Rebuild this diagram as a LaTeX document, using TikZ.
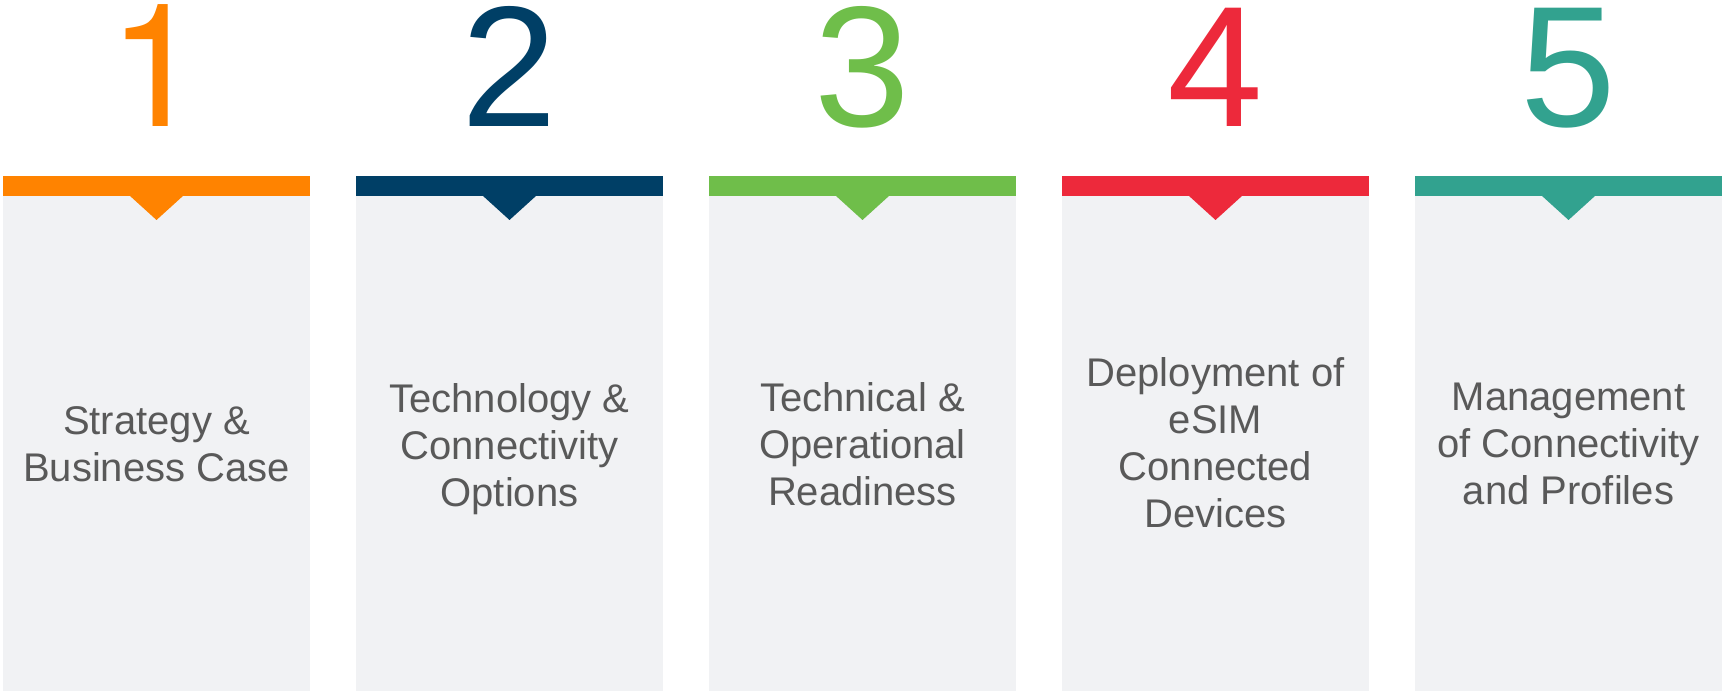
\documentclass[tikz,border=0pt]{standalone}
\usepackage{fontspec}
\setmainfont{Liberation Sans}
\newfontfamily\plainonefont{TeX Gyre Heros}
\definecolor{cOne}{HTML}{FF8300}
\definecolor{cTwo}{HTML}{003F66}
\definecolor{cThree}{HTML}{6FBE4A}
\definecolor{cFour}{HTML}{ED293B}
\definecolor{cFive}{HTML}{32A28F}
\definecolor{panelbg}{HTML}{F1F2F4}
\definecolor{txtgray}{HTML}{595959}
\begin{document}
\begin{tikzpicture}[x=1pt,y=-1pt,
  panelbox/.style={fill=panelbg, draw=none},
  digitlabel/.style={anchor=base, inner sep=0pt, font=\fontsize{172}{172}\selectfont},
  steplabel/.style={anchor=base, inner sep=0pt, text=txtgray, font=\fontsize{40}{47.3}\selectfont}]
\useasboundingbox (0,0) rectangle (1723,692);
\foreach \n/\dg/\col/\y/\txt in {
  1/{\plainonefont 1}/cOne/434/{Strategy \&\\Business Case},
  2/2/cTwo/412/{Technology \&\\Connectivity\\Options},
  3/3/cThree/411/{Technical \&\\Operational\\Readiness},
  4/4/cFour/386/{Deployment of\\eSIM\\Connected\\Devices},
  5/5/cFive/410/{Management\\of Connectivity\\and Profiles}}{
  \pgfmathsetmacro\L{3+353*(\n-1)}
  \pgfmathsetmacro\R{\L+307}
  \pgfmathsetmacro\C{\L+153.5}
  \fill[panelbox] (\L,196) rectangle (\R,691);
  \fill[\col] (\L,176) rectangle (\R,196);
  \fill[\col] (\C-27,195.5) -- (\C+27,195.5) -- (\C,220) -- cycle;
  \node[digitlabel, text=\col] (d\n) at (\C,127) {\dg};
  \node[steplabel] (t\n) at (\C,\y) {\begin{tabular}[t]{@{}c@{}}\txt\end{tabular}};
}
\end{tikzpicture}
\end{document}
